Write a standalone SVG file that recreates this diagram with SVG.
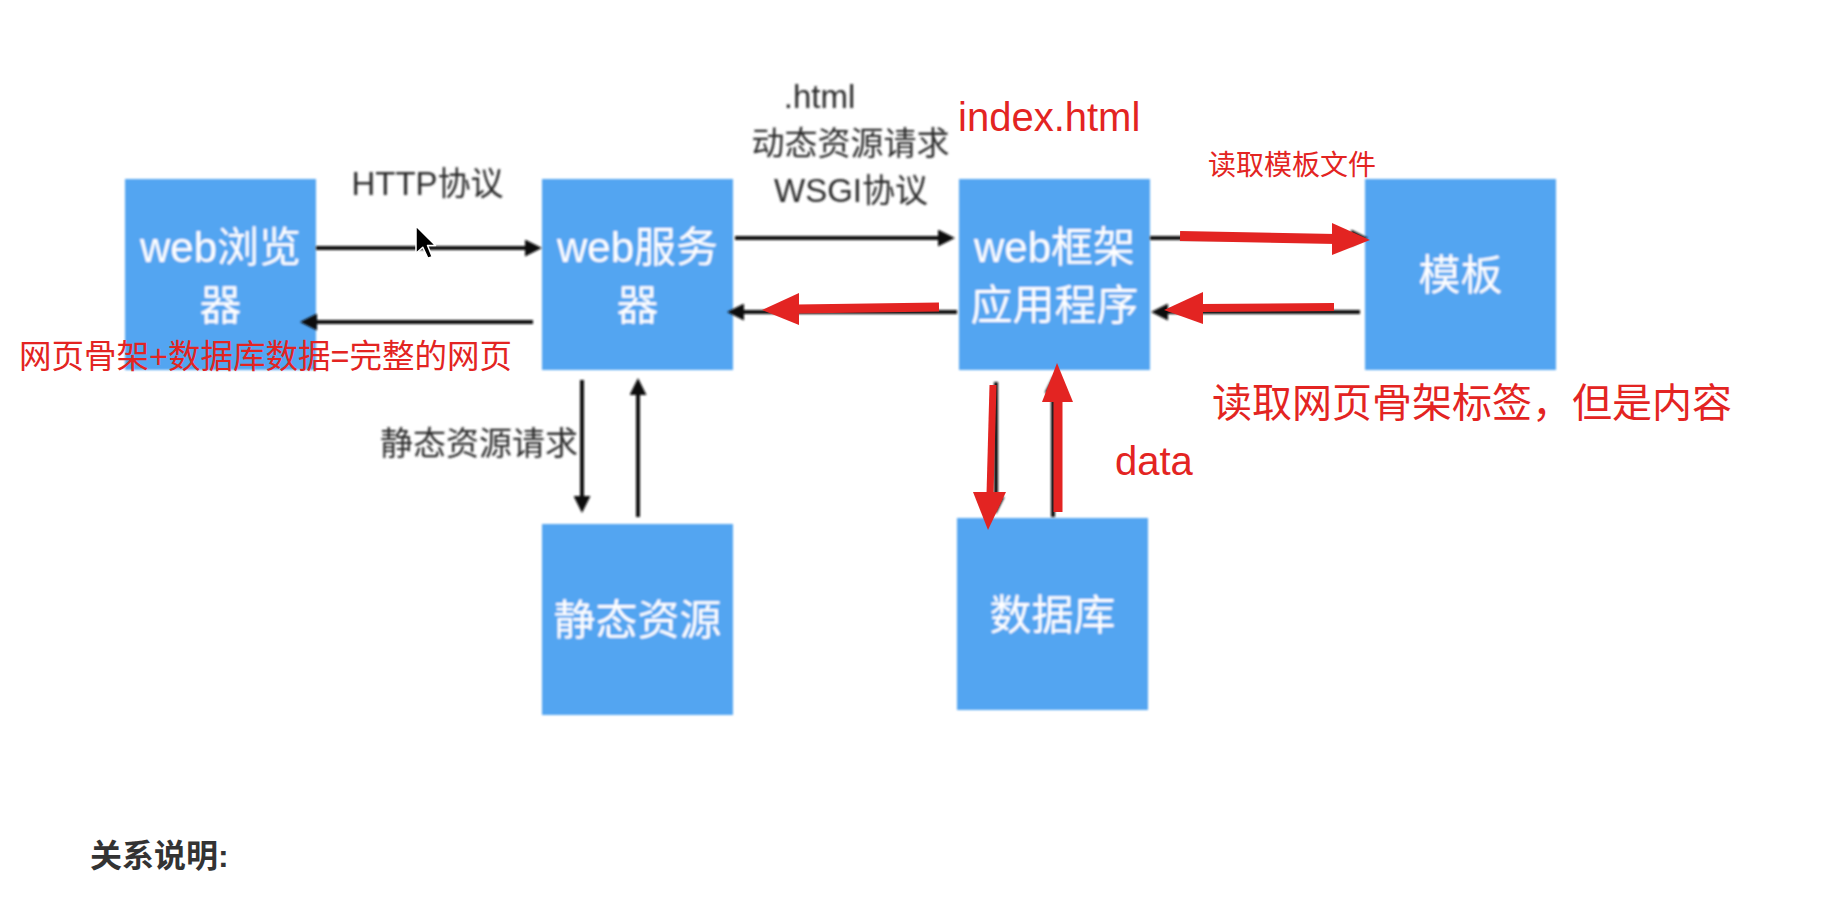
<svg xmlns="http://www.w3.org/2000/svg" width="1834" height="908" viewBox="0 0 1834 908">
  <defs>
    <filter id="soft" filterUnits="userSpaceOnUse" x="0" y="0" width="1834" height="908">
      <feGaussianBlur stdDeviation="0.8"/>
    </filter>
    <marker id="ah" markerUnits="userSpaceOnUse" markerWidth="17" markerHeight="17" refX="3" refY="8.5" orient="auto">
      <path d="M0,0 L17,8.5 L0,17 Z" fill="#111"/>
    </marker>
    <style>
      .box { fill: #53A5F1; }
      .nt { font-family: "Liberation Sans", "Noto Sans CJK SC", sans-serif; font-size: 42px; fill: #ffffff; text-anchor: middle; }
      .lbl { font-family: "Liberation Sans", "Noto Sans CJK SC", sans-serif; font-size: 33px; fill: #2a2a2a; text-anchor: middle; }
      .red { font-family: "Liberation Sans", "Noto Sans CJK SC", sans-serif; fill: #E32422; }
      .bl { stroke: #111; stroke-width: 4; fill: none; marker-end: url(#ah); }
      .rs { stroke: #E32422; fill: none; stroke-linecap: butt; }
      .rh { fill: #E32422; }
      .soft { filter: url(#soft); }
    </style>
  </defs>
  <rect width="1834" height="908" fill="#ffffff"/>

  <g id="node-browser" class="soft">
    <rect class="box" x="125" y="179" width="191" height="191"/>
    <text class="nt" x="220.5" y="262">web浏览</text>
    <text class="nt" x="220.5" y="320">器</text>
  </g>
  <g id="node-server" class="soft">
    <rect class="box" x="542" y="179" width="191" height="191"/>
    <text class="nt" x="637.5" y="262">web服务</text>
    <text class="nt" x="637.5" y="320">器</text>
  </g>
  <g id="node-framework" class="soft">
    <rect class="box" x="959" y="179" width="191" height="191"/>
    <text class="nt" x="1054.5" y="262">web框架</text>
    <text class="nt" x="1054.5" y="320">应用程序</text>
  </g>
  <g id="node-template" class="soft">
    <rect class="box" x="1365" y="179" width="191" height="191"/>
    <text class="nt" x="1460.5" y="290">模板</text>
  </g>
  <g id="node-static" class="soft">
    <rect class="box" x="542" y="524" width="191" height="191"/>
    <text class="nt" x="637.5" y="635">静态资源</text>
  </g>
  <g id="node-database" class="soft">
    <rect class="box" x="957" y="518" width="191" height="192"/>
    <text class="nt" x="1052.5" y="630">数据库</text>
  </g>

  <g id="connectors">
    <g class="soft">
      <line class="bl" x1="316" y1="248" x2="528" y2="248"/>
      <line class="bl" x1="533" y1="322" x2="314" y2="322"/>
      <line class="bl" x1="735" y1="238" x2="941" y2="238"/>
      <line class="bl" x1="957" y1="312" x2="741" y2="312"/>
      <line class="bl" x1="1150" y1="238" x2="1354" y2="238"/>
      <line class="bl" x1="1360" y1="312" x2="1165" y2="312"/>
      <line class="bl" x1="582" y1="380" x2="582" y2="499"/>
      <line class="bl" x1="638" y1="517" x2="638" y2="392"/>
      <line class="bl" x1="996" y1="382" x2="996" y2="500"/>
      <line class="bl" x1="1053" y1="517" x2="1053" y2="390"/>
    </g>
    <g id="red-arrows">
      <path class="rs" stroke-width="10" d="M1180,236 L1336,239"/>
      <polygon class="rh" points="1332,223 1370,240 1332,255"/>
      <path class="rs" stroke-width="9" d="M939,307 L797,309"/>
      <polygon class="rh" points="799,293 762,310 799,325"/>
      <path class="rs" stroke-width="8" d="M1334,307 L1201,308"/>
      <polygon class="rh" points="1203,292 1164,310 1203,324"/>
      <path class="rs" stroke-width="7" d="M993,385 L990,494"/>
      <polygon class="rh" points="973,492 1006,492 988,530"/>
      <path class="rs" stroke-width="9" d="M1058,512 L1058,400"/>
      <polygon class="rh" points="1042,402 1073,402 1057,363"/>
    </g>
  </g>

  <g id="labels">
    <g class="soft">
      <text class="lbl" x="427.5" y="195">HTTP协议</text>
      <text class="lbl" x="819.5" y="108">.html</text>
      <text class="lbl" x="850.5" y="155">动态资源请求</text>
      <text class="lbl" x="851" y="202">WSGI协议</text>
      <text class="lbl" x="479" y="455">静态资源请求</text>
    </g>
    <text class="red" x="958" y="131" font-size="40">index.html</text>
    <text class="red" x="1208" y="175" font-size="28">读取模板文件</text>
    <text class="red" x="19" y="368" font-size="32.5">网页骨架+数据库数据=完整的网页</text>
    <text class="red" x="1212" y="417" font-size="40">读取网页骨架标签，但是内容</text>
    <text class="red" x="1115" y="475" font-size="40">data</text>
    <text x="90" y="867" font-family="'Liberation Sans', 'Noto Sans CJK SC', sans-serif" font-size="32" font-weight="bold" fill="#333333">关系说明:</text>
  </g>

  <polygon id="cursor" points="416,226 416,253.2 422.8,247.25 427.9,258.3 432.15,256.6 427.56,245.55 435.55,245.55" fill="#000000" stroke="#ffffff" stroke-width="1.5" stroke-linejoin="round"/>
</svg>
